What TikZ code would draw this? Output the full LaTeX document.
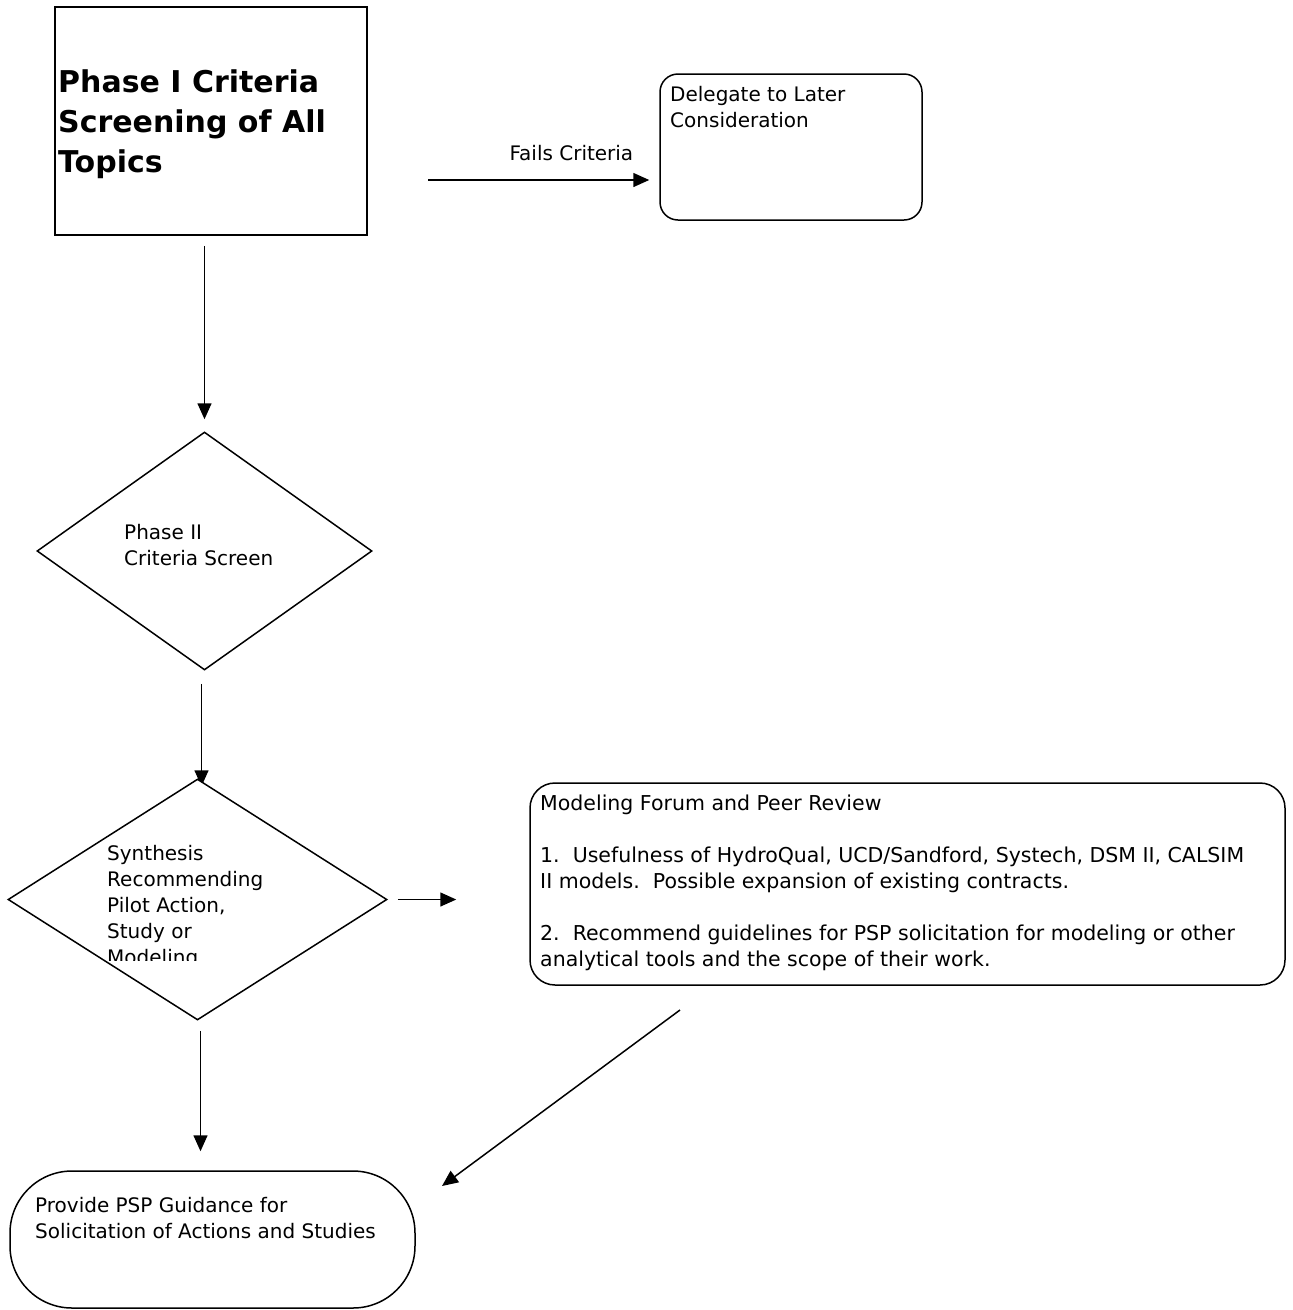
\documentclass[tikz,border=0pt]{standalone}
\usepackage{fontspec}
\setmainfont{DejaVu Sans}
\usetikzlibrary{arrows.meta, calc, shapes.geometric, backgrounds, positioning}

\tikzset{
  box/.style={draw=black, line width=1.5pt, fill=white, inner sep=0pt},
  txt/.style={anchor=north west, inner sep=0pt, align=left, font=\fontsize{20}{26}\selectfont},
  arr/.style={line width=1.5pt, -{Triangle[length=16pt, width=14pt]}},
}

\begin{document}
\begin{tikzpicture}[x=1pt, y=-1pt]
  \useasboundingbox (0,0) rectangle (1293,1310);

  % the shapes
  \node[box, minimum width=312pt, minimum height=228pt] (phase1) at (211,121) {};
  \node[box, rounded corners=18pt, minimum width=262pt, minimum height=146pt] (delegate) at (791,147) {};
  \node[box, diamond, minimum width=335pt, minimum height=238pt] (screen) at (204.5,551) {};
  \node[box, diamond, minimum width=379pt, minimum height=241pt] (synth) at (197.5,899.5) {};
  \node[box, rounded corners=25pt, minimum width=755pt, minimum height=202pt] (forum) at (907.5,884) {};
  \node[box, rounded corners=62pt, minimum width=405pt, minimum height=137pt] (guide) at (212.5,1239.5) {};

  % their texts
  \node[txt, font=\fontsize{30}{40}\bfseries\selectfont] (phase1txt) at (58,70) {Phase I Criteria\\Screening of All\\Topics};
  \node[txt] (delegatetxt) at (670,86) {Delegate to Later\\Consideration};
  \node[txt] (screentxt) at (124,524) {Phase II\\Criteria Screen};
  \begin{scope}
    \clip (0,700) rectangle (500,960);
    \node[txt] (synthtxt) at (107,845) {Synthesis\\Recommending\\Pilot Action,\\Study or\\Modeling};
  \end{scope}
  \node[txt, font=\fontsize{20.5}{26}\selectfont] (forumtxt) at (540,795) {Modeling Forum and Peer Review\\[26pt]
    1.~~Usefulness of HydroQual, UCD/Sandford, Systech, DSM II, CALSIM\\
    II models.~~Possible expansion of existing contracts.\\[26pt]
    2.~~Recommend guidelines for PSP solicitation for modeling or other\\
    analytical tools and the scope of their work.};
  \node[txt] (guidetxt) at (35,1197) {Provide PSP Guidance for\\Solicitation of Actions and Studies};

  \coordinate (failsstart) at (428,180);
  \coordinate (forumout) at (680,1010);
  \coordinate (guidein) at (442,1186);

  % connectors
  \begin{scope}[on background layer]
    \draw[arr, shorten >=10pt] (failsstart) -- (failsstart -| delegate.west)
      node[pos=0.62, above=15pt, font=\fontsize{20}{26}\selectfont] (fails) {Fails Criteria};
    \draw[arr, shorten <=10pt, shorten >=12pt] (phase1.south -| screen.north) -- (screen.north);
    \draw[arr, shorten <=13pt] ([xshift=-3pt]screen.south) -- ($(screen.south |- synth.north)+(-3,8)$);
    \draw[arr, shorten <=10pt, shorten >=73pt] (synth.east) -- (synth.east -| forum.west);
    \draw[arr, shorten <=10pt, shorten >=19pt] ([xshift=3pt]synth.south) -- ($(synth.south |- guide.north)+(3,0)$);
    \draw[arr] (forumout) -- (guidein);
  \end{scope}
\end{tikzpicture}
\end{document}
